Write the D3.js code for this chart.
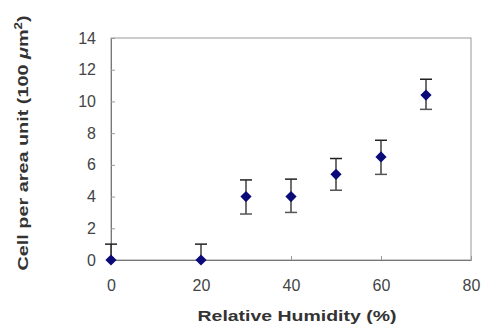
<!DOCTYPE html>
<html>
<head>
<meta charset="utf-8">
<script src="https://cdn.jsdelivr.net/npm/d3@7"></script>
<style>
  body { margin: 0; background: #fff; }
  text { font-family: "Liberation Sans", Arial, sans-serif; }
</style>
</head>
<body>
<div id="chart"></div>
<script>
// data
const humidity = [0, 20, 30, 40, 50, 60, 70];
const cells = [0, 0, 4.0, 4.0, 5.4, 6.5, 10.4];
const errUp = [1.0, 1.0, 1.05, 1.1, 1.0, 1.05, 1.0];
const errDown = [0, 0, 1.1, 1.0, 1.0, 1.1, 0.9];
const xTicks = [0, 20, 40, 60, 80];
const yTicks = [0, 2, 4, 6, 8, 10, 12, 14];

const W = 483, H = 327;
const margin = {top: 38, right: 12, bottom: 67, left: 111};
const width = W - margin.left - margin.right,
      height = H - margin.top - margin.bottom;

const svg = d3.select("#chart").append("svg")
    .attr("width", W)
    .attr("height", H);

const g = svg.append("g")
    .attr("transform", `translate(${margin.left}, ${margin.top})`);

const x = d3.scaleLinear().domain([0, 80]).range([0, width]);
const y = d3.scaleLinear().domain([0, 14]).range([height, 0]);

// plot frame
g.append("rect")
    .attr("width", width)
    .attr("height", height)
    .attr("fill", "none")
    .attr("stroke", "#999")
    .attr("stroke-width", 1);

// axes, ticks pointing inward
const xAxis = g.append("g")
    .attr("transform", `translate(0, ${height})`)
    .call(d3.axisBottom(x).tickValues(xTicks).tickSizeInner(-4).tickSizeOuter(0).tickPadding(20));
const yAxis = g.append("g")
    .call(d3.axisLeft(y).tickValues(yTicks).tickSizeInner(-4).tickSizeOuter(0).tickPadding(15));

[xAxis, yAxis].forEach(a => {
    a.select(".domain").attr("stroke", "#777");
    a.selectAll(".tick line").attr("stroke", "#999");
    a.selectAll(".tick text")
        .attr("fill", "#444")
        .style("font-size", "16px");
});

// error bars
const cap = 6;
const bars = g.append("g");
humidity.forEach((h, i) => {
    const cx = x(h);
    const top = y(cells[i] + errUp[i]);
    const bot = y(cells[i] - errDown[i]);
    bars.append("line")
        .attr("x1", cx).attr("x2", cx)
        .attr("y1", top).attr("y2", bot)
        .attr("stroke", "#222").attr("stroke-width", 1.3);
    bars.append("line")
        .attr("x1", cx - cap).attr("x2", cx + cap)
        .attr("y1", top).attr("y2", top)
        .attr("stroke", "#222").attr("stroke-width", 1.5);
    if (errDown[i] > 0) {
        bars.append("line")
            .attr("x1", cx - cap).attr("x2", cx + cap)
            .attr("y1", bot).attr("y2", bot)
            .attr("stroke", "#555").attr("stroke-width", 1.5);
    }
});

// diamond markers
g.selectAll("path.pt")
    .data(humidity)
    .join("path")
    .attr("class", "pt")
    .attr("transform", (d, i) => `translate(${x(d)}, ${y(cells[i])})`)
    .attr("d", d3.symbol().type(d3.symbolDiamond2).size(80))
    .attr("fill", "#0a0a78");

// axis titles
svg.append("text")
    .attr("x", 297)
    .attr("y", 321)
    .attr("text-anchor", "middle")
    .attr("textLength", 199)
    .attr("lengthAdjust", "spacingAndGlyphs")
    .attr("fill", "#333")
    .style("font-size", "15px")
    .style("font-weight", "bold")
    .text("Relative Humidity (%)");

const yt = svg.append("text")
    .attr("transform", `translate(28, 143) rotate(-90)`)
    .attr("text-anchor", "middle")
    .attr("textLength", 255)
    .attr("lengthAdjust", "spacingAndGlyphs")
    .attr("fill", "#333")
    .style("font-size", "15px")
    .style("font-weight", "bold");
yt.append("tspan").text("Cell per area unit (100 ");
yt.append("tspan").style("font-style", "italic").text("μ");
yt.append("tspan").text("m");
yt.append("tspan").attr("dy", -6).style("font-size", "10px").text("2");
yt.append("tspan").attr("dy", 6).text(")");
</script>
</body>
</html>
